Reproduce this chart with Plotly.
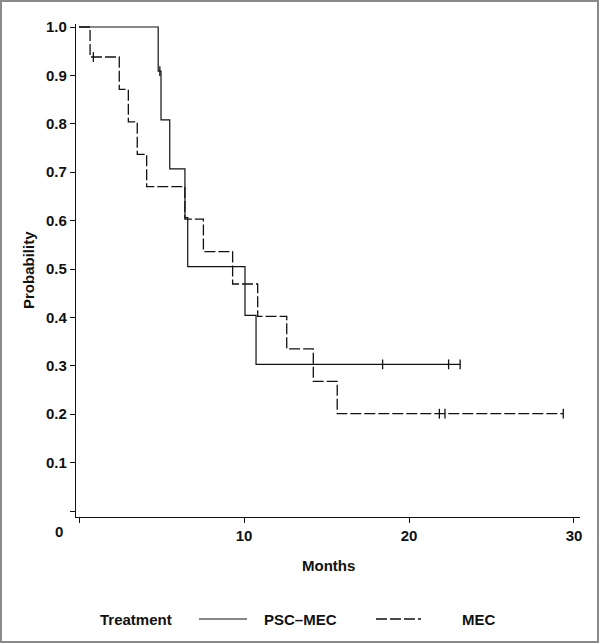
import plotly.graph_objects as go

# Kaplan-Meier steps (months, probability)
psc_months = [0, 4.8, 4.97, 5.5, 6.42, 6.59, 10.06, 10.73, 23.1]
psc_prob = [1.0, 0.909, 0.808, 0.707, 0.606, 0.505, 0.404, 0.303, 0.303]
psc_cens_months = [4.9, 18.4, 22.4, 23.1]
psc_cens_prob = [0.909, 0.303, 0.303, 0.303]

mec_months = [0, 0.67, 2.44, 2.99, 3.53, 4.1, 6.42, 7.54, 9.31, 10.83, 12.59, 14.2, 15.65, 29.35]
mec_prob = [1.0, 0.938, 0.871, 0.804, 0.737, 0.670, 0.603, 0.536, 0.469, 0.402, 0.335, 0.268, 0.201, 0.201]
mec_cens_months = [0.87, 21.84, 22.18, 29.35]
mec_cens_prob = [0.938, 0.201, 0.201, 0.201]

y_ticks = [0, 0.1, 0.2, 0.3, 0.4, 0.5, 0.6, 0.7, 0.8, 0.9, 1.0]
y_labels = ["", "0.1", "0.2", "0.3", "0.4", "0.5", "0.6", "0.7", "0.8", "0.9", "1.0"]
x_ticks = [0, 10, 20, 30]
x_labels = ["", "10", "20", "30"]

FONT = "Liberation Sans, Arial, sans-serif"
INK = "#111111"

# pixel -> paper helpers (plot area spans x 76..580, y 24..517)
L, R, T, B = 76, 20, 24, 127
W, H = 600, 644
def xp(px):
    return (px - L) / (W - L - R)
def yp(py):
    return (H - B - py) / (H - B - T)

fig = go.Figure()

fig.add_trace(go.Scatter(x=psc_months, y=psc_prob, mode="lines", line_shape="hv",
                         line=dict(color=INK, width=1.2), showlegend=False))
fig.add_trace(go.Scatter(x=mec_months, y=mec_prob, mode="lines", line_shape="hv",
                         line=dict(color=INK, width=1.3, dash="11px,3px"), showlegend=False))
fig.add_trace(go.Scatter(x=psc_cens_months, y=psc_cens_prob, mode="markers",
                         marker=dict(symbol="line-ns", size=7, line=dict(width=1.3, color=INK)),
                         showlegend=False))
fig.add_trace(go.Scatter(x=mec_cens_months, y=mec_cens_prob, mode="markers",
                         marker=dict(symbol="line-ns", size=7, line=dict(width=1.3, color=INK)),
                         showlegend=False))

axis_common = dict(showline=True, linecolor=INK, linewidth=1.3, showgrid=False, zeroline=False,
                   ticks="outside", ticklen=5, tickwidth=1.2, tickcolor=INK,
                   tickfont=dict(family=FONT, size=15, color=INK, weight="bold"))

fig.update_xaxes(range=[-0.182, 30.364], tickvals=x_ticks, ticktext=x_labels, **axis_common)
fig.update_yaxes(range=[-0.0124, 1.0062], tickvals=y_ticks, ticktext=y_labels, **axis_common)

txt = dict(family=FONT, size=15, color=INK, weight="bold")
annotations = [
    dict(text="Probability", x=xp(28), y=yp(270), textangle=-90, font=txt),
    dict(text="Months", x=xp(328), y=yp(565), font=txt),
    dict(text="0", x=xp(59), y=yp(531), font=txt),
    dict(text="Treatment", x=xp(98), y=yp(619), xanchor="left", font=txt),
    dict(text="PSC–MEC", x=xp(262), y=yp(619), xanchor="left", font=txt),
    dict(text="MEC", x=xp(460), y=yp(619), xanchor="left", font=txt),
]
for a in annotations:
    a.update(xref="paper", yref="paper", showarrow=False)
    a.setdefault("xanchor", "center")
    a["yanchor"] = "middle"

shapes = [
    dict(type="line", x0=xp(199), x1=xp(247), y0=yp(619), y1=yp(619),
         line=dict(color=INK, width=1.2)),
    dict(type="line", x0=xp(376), x1=xp(421), y0=yp(619), y1=yp(619),
         line=dict(color=INK, width=1.3, dash="11px,3px")),
    dict(type="rect", x0=xp(1), x1=xp(598), y0=yp(1), y1=yp(642),
         line=dict(color="#8a8a8a", width=2)),
]
for s in shapes:
    s.update(xref="paper", yref="paper")

fig.update_layout(
    width=W, height=H,
    margin=dict(l=L, r=R, t=T, b=B),
    paper_bgcolor="white", plot_bgcolor="white",
    annotations=annotations, shapes=shapes,
    showlegend=False,
)

# drop the page's default body margin so the figure sits at the window origin
fig.write_html("out.html", config={"displayModeBar": False},
               post_script="document.body.style.margin='0';document.body.style.overflow='hidden';")
